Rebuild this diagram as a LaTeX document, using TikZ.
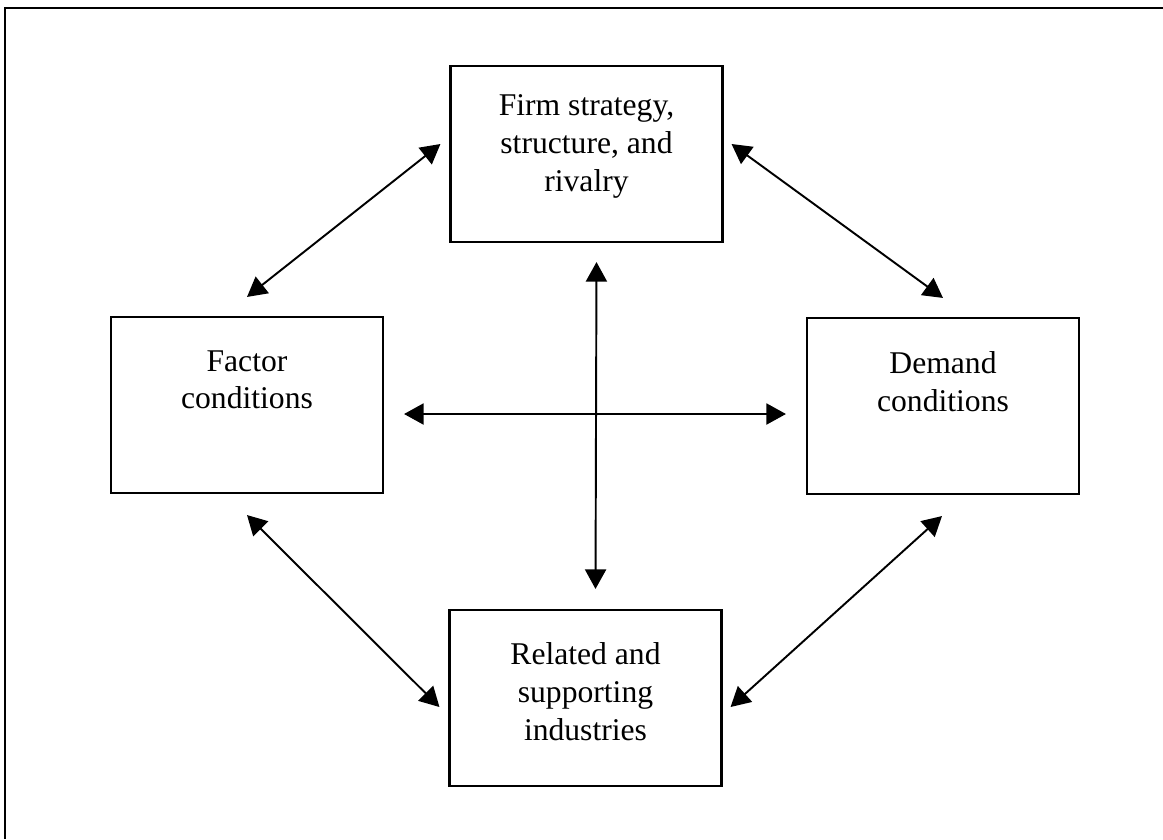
\documentclass[tikz,border=0pt]{standalone}
\usepackage{fontspec}
\setmainfont{Liberation Serif}
\usepackage{tikz}
\usetikzlibrary{arrows.meta, positioning, calc}
\tikzstyle{box} = [rectangle, draw=black, line width=1.2pt, inner sep=0pt,
    minimum width=54.4mm, minimum height=35.2mm]
\tikzstyle{boxtext} = [align=center, inner sep=0pt,
    font=\fontsize{18}{21.6}\selectfont]
\tikzstyle{dblarr} = [line width=1.1pt, >={Triangle[length=3.9mm, width=4.2mm]}, <->]
\tikzstyle{frame} = [line width=1.1pt]

\begin{document}
\begin{tikzpicture}[x=0.2mm, y=-0.2mm]
        \useasboundingbox (0,0) rectangle (1163,839);

        % outer frame (cut at right and bottom)
        \draw [frame] (1163,8) -- (5,8) -- (5,839);

        % the four boxes
        \node (firm)    [box] at (586.5,154) {};
        \node (factor)  [box] at (247,405) {};
        \node (demand)  [box] at (943,406) {};
        \node (related) [box] at (585.5,698) {};

        % texts sit in the upper part of each box
        \node (firmtxt) [boxtext, below=5.8mm of firm.north]
            {Firm strategy,\\structure, and\\rivalry};
        \node (factortxt) [boxtext, below=6.8mm of factor.north]
            {Factor\\conditions};
        \node (demandtxt) [boxtext, below=6.8mm of demand.north]
            {Demand\\conditions};
        \node (relatedtxt) [boxtext, below=6.6mm of related.north]
            {Related and\\supporting\\industries};

        % arrows
        \draw [dblarr] ([shift={(-9,-10)}]firm.west) --
            ([yshift=3.8mm]factor.north);
        \draw [dblarr] ([shift={(8,-10)}]firm.east) --
            ([yshift=3.8mm]demand.north);

        \draw [dblarr] ([shift={(10,19)}]firm.south) --
            ([shift={(10,-20)}]related.north);
        \draw [dblarr] ([shift={(20,9)}]factor.east) --
            ([shift={(-20,8)}]demand.west);

        \draw [dblarr] ([yshift=-4.2mm]factor.south) --
            ([shift={(-9,9)}]related.west);
        \draw [dblarr] ([shift={(-1,21)}]demand.south) --
            ([shift={(8,9)}]related.east);

\end{tikzpicture}
\end{document}
